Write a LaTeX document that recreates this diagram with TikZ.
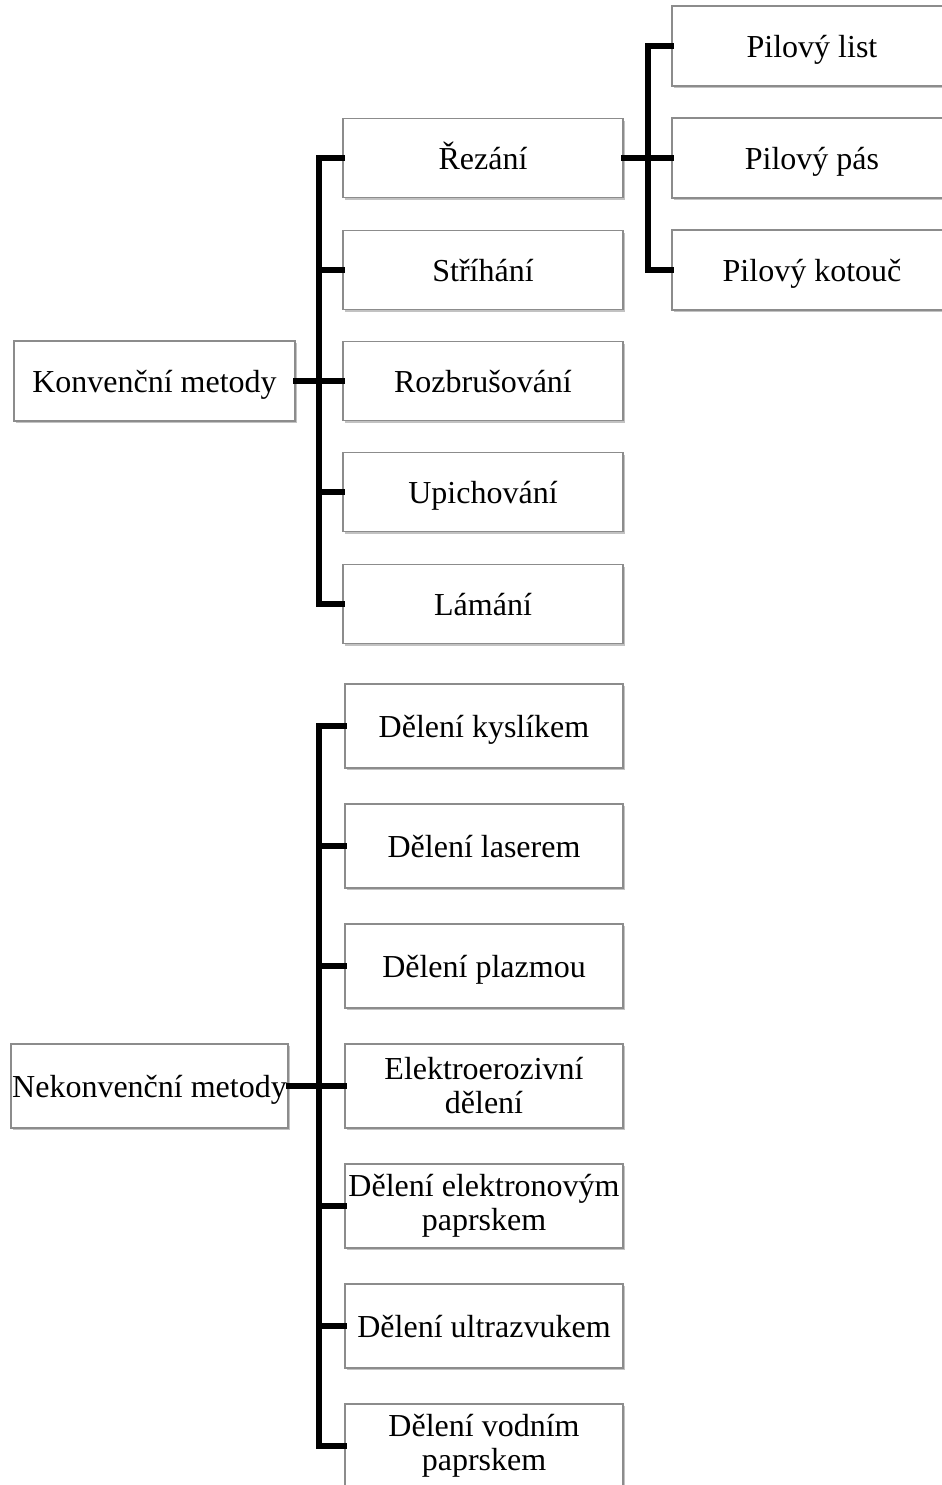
\documentclass[tikz,border=0pt]{standalone}
\usepackage{fontspec}
\setmainfont{Liberation Serif}
\usetikzlibrary{shadows}
\begin{document}
\begin{tikzpicture}[x=0.75pt,y=-0.75pt,
  box/.style={draw=black!45, line width=0.9pt, fill=white, align=center,
    inner sep=0pt, font=\fontsize{24}{25.5}\selectfont,
    drop shadow={shadow xshift=1.2pt, shadow yshift=-1.8pt, fill=black!40, opacity=0.6}},
  one/.style={text height=21pt, text depth=4.5pt},
  conn/.style={line width=3.8pt, line cap=rect, line join=miter}]
\useasboundingbox (0,0) rectangle (942,1485);
\begin{scope}
\clip (0,0) rectangle (942,1485);
% top group
\node[box, one, minimum width=281*0.75pt, minimum height=80*0.75pt] (K) at (154.5,381) {Konvenční metody};
\foreach \n/\t/\y in {R/Řezání/158, S/Stříhání/270, Rb/Rozbrušování/381, U/Upichování/492, L/Lámání/604}{
  \node[box, one, minimum width=280*0.75pt, minimum height=79*0.75pt] (\n) at (483,\y) {\t};
}
\foreach \n/\t/\y in {P1/Pilový list/46, P2/Pilový pás/158, P3/Pilový kotouč/270}{
  \node[box, one, minimum width=280*0.75pt, minimum height=80*0.75pt] (\n) at (812,\y) {\t};
}
\coordinate (tk) at (319,381);
\draw[conn] (K.east) -- (tk);
\foreach \n in {R,S,Rb,U,L}{ \draw[conn] (\n.west) -| (tk); }
\coordinate (tp) at (648,158);
\draw[conn] (R.east) -- (tp);
\foreach \n in {P1,P2,P3}{ \draw[conn] (\n.west) -| (tp); }
% bottom group
\node[box, one, minimum width=277*0.75pt, minimum height=84*0.75pt] (N) at (149.5,1086) {Nekonvenční metody};
\foreach \n/\t/\y in {D1/Dělení kyslíkem/726, D2/Dělení laserem/846, D3/Dělení plazmou/966, D6/Dělení ultrazvukem/1326}{
  \node[box, one, minimum width=278*0.75pt, minimum height=84*0.75pt] (\n) at (484,\y) {\t};
}
\foreach \n/\t/\y in {D4/{Elektroerozivní\\dělení}/1086, D5/{Dělení elektronovým\\paprskem}/1206,
  D7/{Dělení vodním\\paprskem}/1446}{
  \node[box, minimum width=278*0.75pt, minimum height=84*0.75pt] (\n) at (484,\y) {\t};
}
\coordinate (tn) at (319,1086);
\draw[conn] (N.east) -- (tn);
\foreach \n in {D1,D2,D3,D4,D5,D6,D7}{ \draw[conn] (\n.west) -| (tn); }
\end{scope}
\end{tikzpicture}
\end{document}
